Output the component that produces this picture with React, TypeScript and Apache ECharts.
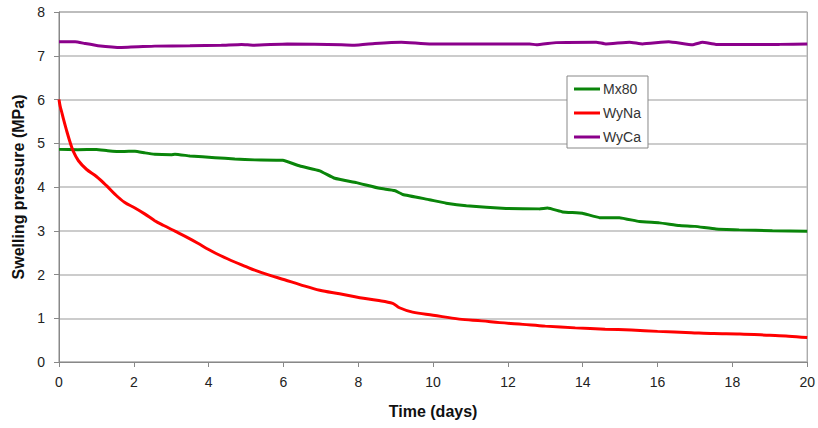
import React, { useEffect, useRef } from "react";
import * as echarts from "echarts";

const xTicks = [0, 2, 4, 6, 8, 10, 12, 14, 16, 18, 20];
const yTicks = [0, 1, 2, 3, 4, 5, 6, 7, 8];

const mx80Time = [0, 0.5, 1.0, 1.3, 1.7, 2.03, 2.3, 2.56, 3.0, 3.1, 3.5, 4.17, 4.7, 5.23, 5.98, 6.44, 6.97, 7.37, 7.95, 8.57, 8.97, 9.19, 9.9, 10.35, 10.89, 11.95, 12.84, 13.06, 13.46, 13.99, 14.45, 14.98, 15.51, 16.05, 16.58, 17.0, 17.56, 18.18, 19.07, 20];
const mx80Values = [4.86, 4.85, 4.86, 4.83, 4.81, 4.82, 4.78, 4.75, 4.74, 4.75, 4.71, 4.67, 4.64, 4.62, 4.61, 4.48, 4.37, 4.2, 4.1, 3.97, 3.92, 3.83, 3.71, 3.63, 3.57, 3.51, 3.5, 3.52, 3.43, 3.4, 3.3, 3.3, 3.21, 3.18, 3.12, 3.1, 3.04, 3.02, 3.0, 2.99];

const wyNaTime = [0, 0.03, 0.07, 0.12, 0.2, 0.29, 0.38, 0.52, 0.74, 1.0, 1.27, 1.5, 1.75, 2.03, 2.3, 2.56, 2.8, 3.1, 3.4, 3.7, 4.0, 4.2, 4.6, 5.0, 5.23, 5.6, 6.03, 6.44, 6.97, 7.5, 8.04, 8.5, 8.92, 9.1, 9.45, 10.0, 10.7, 11.3, 11.78, 12.4, 13.0, 13.8, 14.6, 15.3, 16.0, 16.9, 17.5, 18.2, 19.0, 19.5, 20];
const wyNaValues = [6.0, 5.85, 5.72, 5.55, 5.3, 5.04, 4.82, 4.6, 4.4, 4.24, 4.03, 3.83, 3.65, 3.52, 3.38, 3.23, 3.12, 2.99, 2.86, 2.72, 2.57, 2.48, 2.32, 2.18, 2.1, 1.99, 1.88, 1.77, 1.64, 1.56, 1.47, 1.41, 1.34, 1.24, 1.14, 1.07, 0.98, 0.94, 0.9, 0.86, 0.82, 0.78, 0.75, 0.73, 0.7, 0.67, 0.65, 0.64, 0.61, 0.59, 0.56];

const wyCaTime = [0, 0.43, 0.69, 1.04, 1.67, 2.56, 3.5, 4.34, 4.88, 5.2, 6.1, 7.55, 7.9, 8.44, 9.15, 9.9, 12.58, 12.76, 13.29, 14.36, 14.62, 15.25, 15.6, 16.3, 16.93, 17.2, 17.56, 18.8, 19.26, 20];
const wyCaValues = [7.32, 7.32, 7.28, 7.23, 7.19, 7.22, 7.23, 7.24, 7.26, 7.24, 7.27, 7.25, 7.24, 7.28, 7.31, 7.27, 7.27, 7.25, 7.3, 7.31, 7.27, 7.31, 7.27, 7.32, 7.25, 7.31, 7.26, 7.26, 7.26, 7.27];

const pairs = (t: number[], v: number[]) => t.map((x, i) => [x, v[i]]);

const FONT = "'Liberation Sans', Arial, sans-serif";

export default function App() {
  const ref = useRef<HTMLDivElement>(null);
  useEffect(() => {
    if (!ref.current) return;
    const chart = echarts.init(ref.current, null, { renderer: "svg" });
    const mkSeries = (name: string, t: number[], v: number[], color: string, smooth: number | boolean) => ({
      name,
      type: "line",
      data: pairs(t, v),
      showSymbol: false,
      symbol: "none",
      smooth,
      lineStyle: { color, width: 3 },
      itemStyle: { color },
    });
    chart.setOption({
      animation: false,
      backgroundColor: "#ffffff",
      textStyle: { fontFamily: FONT },
      grid: {
        left: 59,
        right: 10,
        top: 12,
        bottom: 66,
        show: true,
        borderColor: "#888",
        borderWidth: 1,
        backgroundColor: "transparent",
      },
      legend: {
        orient: "vertical",
        left: 567,
        top: 76,
        padding: [5, 7, 3, 7],
        itemWidth: 26,
        itemHeight: 3,
        itemGap: 8,
        icon: "rect",
        backgroundColor: "#fff",
        borderColor: "#888",
        borderWidth: 1,
        borderRadius: 0,
        textStyle: { fontFamily: FONT, fontSize: 14, lineHeight: 16, height: 16, color: "#333", padding: [0, 0, 0, -2] },
        data: ["Mx80", "WyNa", "WyCa"],
      },
      xAxis: {
        type: "value",
        min: xTicks[0],
        max: xTicks[xTicks.length - 1],
        interval: 2,
        name: "Time (days)",
        nameLocation: "middle",
        nameGap: 41,
        nameTextStyle: { fontFamily: FONT, fontSize: 16, fontWeight: "bold", color: "#111" },
        axisLine: { show: true, lineStyle: { color: "#888", width: 1 } },
        axisTick: { show: true, length: 5, lineStyle: { color: "#888" } },
        axisLabel: { fontFamily: FONT, fontSize: 14, color: "#222", margin: 13 },
        splitLine: { show: false },
      },
      yAxis: {
        type: "value",
        min: yTicks[0],
        max: yTicks[yTicks.length - 1],
        interval: 1,
        name: "Swelling pressure (MPa)",
        nameLocation: "middle",
        nameGap: 32,
        nameTextStyle: { fontFamily: FONT, fontSize: 16, fontWeight: "bold", color: "#111" },
        axisLine: { show: true, lineStyle: { color: "#888", width: 1 } },
        axisTick: { show: true, length: 5, lineStyle: { color: "#888" } },
        axisLabel: { fontFamily: FONT, fontSize: 14, color: "#222", margin: 14 },
        splitLine: { show: true, lineStyle: { color: "#bbb", width: 1.5 } },
      },
      series: [
        mkSeries("Mx80", mx80Time, mx80Values, "#0a850a", 0.1),
        mkSeries("WyNa", wyNaTime, wyNaValues, "#ff0000", 0.35),
        mkSeries("WyCa", wyCaTime, wyCaValues, "#8b008b", 0.1),
      ],
    });
    return () => chart.dispose();
  }, []);
  return <div ref={ref} style={{ width: 818, height: 428, position: "absolute", left: 0, top: 0 }} />;
}
